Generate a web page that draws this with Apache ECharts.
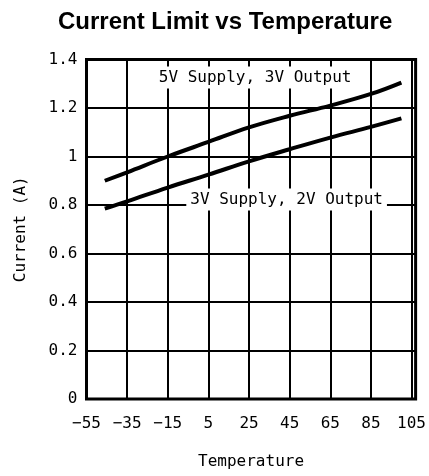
<!DOCTYPE html>
<html>
<head>
<meta charset="utf-8">
<script src="https://cdn.jsdelivr.net/npm/echarts@6/dist/echarts.min.js"></script>
<style>
  html, body { margin: 0; padding: 0; background: #fff; }
  #chart { width: 429px; height: 476px; }
</style>
</head>
<body>
<div id="chart"></div>
<script>
// Current limit (A) against temperature for two supply/output configurations
const temps5V = [-46, -35, -15, 5, 25, 45, 65, 85, 100];
const current5V = [0.90, 0.935, 1.0, 1.06, 1.12, 1.168, 1.21, 1.258, 1.305];
const temps3V = [-46, -35, -15, 5, 25, 45, 65, 85, 100];
const current3V = [0.785, 0.815, 0.872, 0.925, 0.98, 1.03, 1.078, 1.122, 1.157];

const seriesNames = ['5V Supply, 3V Output', '3V Supply, 2V Output'];
// where each curve's caption sits, in data units
const captionAt = [[28, 1.326], [43.5, 0.823]];

const mono = 'DejaVu Sans Mono';

function pairs(xs, ys) { return xs.map((x, i) => [x, ys[i]]); }

function curve(name, data) {
  return {
    name: name,
    type: 'line',
    data: data,
    smooth: 0.4,
    showSymbol: false,
    lineStyle: { color: '#000', width: 4 },
    z: 3
  };
}

// caption boxes with a white fill that hides the grid behind the text
function caption(name, at) {
  return {
    type: 'scatter',
    data: [at],
    symbolSize: 0,
    silent: true,
    z: 4,
    itemStyle: { opacity: 1 },
    label: {
      show: true,
      position: 'inside',
      formatter: name,
      color: '#000',
      opacity: 1,
      fontFamily: mono,
      fontSize: 16,
      backgroundColor: '#fff',
      padding: [3, 4, 3, 4]
    }
  };
}

const chart = echarts.init(document.getElementById('chart'), null, { renderer: 'canvas' });
chart.setOption({
  animation: false,
  backgroundColor: '#fff',
  title: {
    text: 'Current Limit vs Temperature',
    left: 53,
    top: 5,
    textStyle: {
      fontFamily: 'Liberation Sans',
      fontWeight: 'bold',
      fontSize: 24,
      color: '#000'
    }
  },
  grid: {
    left: 86.5,
    right: 8,
    top: 59.5,
    bottom: 77,
    show: true,
    borderColor: '#000',
    borderWidth: 3,
    containLabel: false
  },
  xAxis: {
    type: 'value',
    min: -55,
    max: 107,
    interval: 20,
    name: 'Temperature',
    nameLocation: 'middle',
    nameGap: 55,
    nameTextStyle: { fontFamily: mono, fontSize: 16, color: '#000' },
    axisLine: { show: false },
    axisTick: { show: false },
    axisLabel: {
      showMaxLabel: false,
      margin: 17,
      fontFamily: mono,
      fontSize: 16,
      color: '#000',
      formatter: v => String(v).replace('-', '\u2212')
    },
    splitLine: { show: true, lineStyle: { color: '#000', width: 2 } }
  },
  yAxis: {
    type: 'value',
    min: 0,
    max: 1.4,
    interval: 0.2,
    name: 'Current (A)',
    nameLocation: 'middle',
    nameGap: 58,
    nameTextStyle: { fontFamily: mono, fontSize: 16, color: '#000' },
    axisLine: { show: false },
    axisTick: { show: false },
    axisLabel: {
      margin: 9,
      fontFamily: mono,
      fontSize: 16,
      color: '#000',
      formatter: v => String(+v.toFixed(1))
    },
    splitLine: { show: true, lineStyle: { color: '#000', width: 2 } }
  },
  series: [
    curve(seriesNames[0], pairs(temps5V, current5V)),
    curve(seriesNames[1], pairs(temps3V, current3V)),
    caption(seriesNames[0], captionAt[0]),
    caption(seriesNames[1], captionAt[1])
  ]
});
</script>
</body>
</html>
